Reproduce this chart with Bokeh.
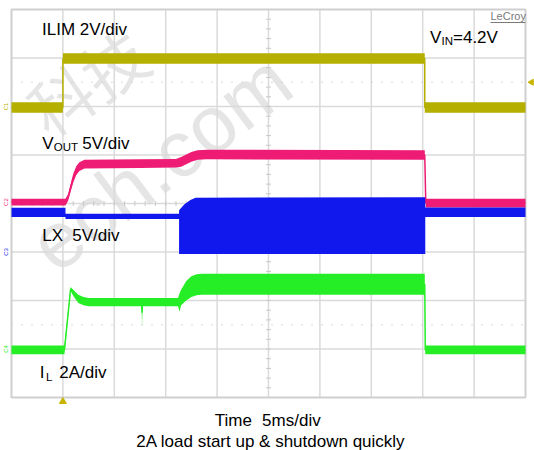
import math
from bokeh.plotting import figure
from bokeh.models import Range1d, Label
from bokeh.core.properties import value
from bokeh.embed import file_html
from bokeh.resources import INLINE

# ---------------- data (time in ms, 5 ms/div; amplitude in screen divisions, 8 div tall)
MS_PER_DIV = 5
N_XDIV = 10
N_YDIV = 8
trigger_ms = 5.0
dotted_levels = [6.5, 1.5]
ilim_trig_level = 6.5

# ILIM (yellow, 2 V/div): envelope of noisy trace
ilim_t = [0, 5.0, 5.0, 40.2, 40.2, 50]
ilim_hi = [6.09, 6.09, 7.10, 7.10, 6.09, 6.09]
ilim_lo = [5.87, 5.87, 6.88, 6.88, 5.87, 5.87]

# VOUT (pink, 5 V/div)
vout_t = [0, 5.25, 5.5, 5.75, 6.0, 6.3, 6.6, 7.1, 12.5, 16.0, 16.5, 17.0, 17.5, 18.1, 19.0, 40.2, 40.3, 50]
vout_hi = [4.10, 4.10, 4.19, 4.40, 4.61, 4.77, 4.85, 4.90, 4.91, 4.92, 4.96, 5.01, 5.06, 5.10, 5.11, 5.10, 4.10, 4.10]
vout_lo = [3.96, 3.96, 4.05, 4.24, 4.43, 4.59, 4.67, 4.72, 4.73, 4.74, 4.76, 4.81, 4.86, 4.90, 4.91, 4.90, 3.92, 3.92]

# LX (blue, 5 V/div): switching node, solid block while switching
lx_t = [0, 5.25, 5.25, 16.3, 16.3, 16.8, 17.4, 17.9, 40.2, 40.25, 40.25, 50]
lx_hi = [3.91, 3.91, 3.79, 3.79, 3.86, 3.98, 4.07, 4.12, 4.13, 4.13, 3.92, 3.92]
lx_lo = [3.72, 3.72, 3.68, 3.68, 2.96, 2.96, 2.96, 2.96, 2.96, 2.96, 3.72, 3.72]

# IL (green, 2 A/div)
il_t = [0, 5.15, 5.75, 6.0, 6.5, 7.0, 7.5, 12.65, 12.7, 12.75, 16.2, 16.35, 16.5, 17.0, 17.5, 18.0, 18.5, 40.2, 40.25, 50]
il_hi = [1.07, 1.07, 2.28, 2.22, 2.12, 2.07, 2.05, 2.05, 2.05, 2.05, 2.05, 2.15, 2.22, 2.40, 2.50, 2.54, 2.55, 2.55, 1.07, 1.07]
il_lo = [0.89, 0.89, 2.20, 2.10, 1.95, 1.90, 1.88, 1.88, 1.45, 1.88, 1.88, 1.77, 1.90, 2.00, 2.07, 2.11, 2.12, 2.12, 0.89, 0.89]

# channel ground markers at left edge (label, level in div)
ch_names = ["C1", "C2", "C3", "C4"]
ch_levels = [6.0, 4.03, 3.0, 1.0]

C_ILIM = "#b5b000"
C_VOUT = "#ee1c74"
C_LX = "#1018ee"
C_IL = "#26ee26"
ch_colors = [C_ILIM, C_VOUT, C_LX, C_IL]

# ---------------- page-pixel helpers (grid spans page x 11..525, y 9..397)
GX0, GDX = 11.0, 51.4
GY0, GDY = 397.0, 48.5


def PX(px):
    return (px - GX0) / GDX * MS_PER_DIV


def PY(py):
    return (GY0 - py) / GDY


W, H = 534, 450
p = figure(width=W, height=H, output_backend="svg", toolbar_location=None,
           x_range=Range1d(PX(0), PX(W)), y_range=Range1d(PY(H), PY(0)),
           x_axis_location=None, y_axis_location=None,
           min_border=0, min_border_left=0, min_border_right=0,
           min_border_top=0, min_border_bottom=0)
p.grid.visible = False
p.outline_line_color = None
p.background_fill_color = "white"
p.border_fill_color = "white"

# ---------------- watermark
p.text(x=[PX(86)], y=[PY(80)], text=["科技"], angle=math.radians(34),
       text_font=value("Noto Sans CJK SC"), text_font_size="64px",
       text_align="center", text_baseline="middle", text_color="#cfcfcf", text_alpha=0.55)
p.text(x=[PX(160)], y=[PY(162)], text=["ech.com"], angle=math.radians(37),
       text_font=value("Liberation Sans"), text_font_size="80px",
       text_align="center", text_baseline="middle", text_color="#cfcfcf", text_alpha=0.55)

# ---------------- graticule
xs_div = list(range(N_XDIV + 1))
ys_div = list(range(N_YDIV + 1))
inner_x = [d * MS_PER_DIV for d in xs_div[1:-1]]
p.segment(x0=inner_x, y0=[0] * len(inner_x), x1=inner_x, y1=[N_YDIV] * len(inner_x),
          line_color="#dadada", line_width=1.5)
inner_y = ys_div[1:-1]
p.segment(x0=[0] * len(inner_y), y0=inner_y, x1=[N_XDIV * MS_PER_DIV] * len(inner_y), y1=inner_y,
          line_color="#dadada", line_width=1.5)
# dotted level lines
p.segment(x0=[0] * len(dotted_levels), y0=dotted_levels,
          x1=[N_XDIV * MS_PER_DIV] * len(dotted_levels), y1=dotted_levels,
          line_color="#cdcdcd", line_width=1.5, line_dash="1 9")
# minor ticks on centre lines
cx = N_XDIV * MS_PER_DIV / 2
cy = N_YDIV / 2
tick_y = [i * 0.2 for i in range(N_YDIV * 5 + 1)]
hx = 2.5 / GDX * MS_PER_DIV
p.segment(x0=[cx - hx] * len(tick_y), y0=tick_y, x1=[cx + hx] * len(tick_y), y1=tick_y,
          line_color="#c8c8c8", line_width=1)
tick_x = [i * 0.2 * MS_PER_DIV for i in range(N_XDIV * 5 + 1)]
hy = 2.5 / GDY
p.segment(x0=tick_x, y0=[cy - hy] * len(tick_x), x1=tick_x, y1=[cy + hy] * len(tick_x),
          line_color="#c8c8c8", line_width=1)
# border
p.rect(x=[N_XDIV * MS_PER_DIV / 2], y=[N_YDIV / 2], width=N_XDIV * MS_PER_DIV, height=N_YDIV,
       fill_color=None, line_color="#cfcfcf", line_width=2)

# ---------------- traces
def trace(t, hi, lo, color, center=True):
    p.varea(x=t, y1=lo, y2=hi, fill_color=color)
    if center:
        mid = [(a + b) / 2 for a, b in zip(hi, lo)]
        p.line(x=t, y=mid, line_color=color, line_width=1.5)


trace(ilim_t, ilim_hi, ilim_lo, C_ILIM)
trace(vout_t, vout_hi, vout_lo, C_VOUT)
trace(lx_t, lx_hi, lx_lo, C_LX, center=False)
trace(il_t, il_hi, il_lo, C_IL)

# trigger markers
p.scatter(x=[trigger_ms], y=[PY(401)], marker="triangle", size=7,
          fill_color="#c8b400", line_color="#c8b400")
p.scatter(x=[PX(531)], y=[ilim_trig_level], marker="triangle", angle=math.pi / 2, size=6,
          fill_color="#c8b400", line_color="#c8b400")

# channel markers
p.text(x=[PX(5.5)] * len(ch_names), y=ch_levels, text=ch_names, text_color=ch_colors,
       angle=math.pi / 2, text_font=value("Liberation Sans"), text_font_size="6px",
       text_align="center", text_baseline="middle")

# ---------------- texts (y = vertical centre of capitals, page px)
FONT = "Liberation Sans"


def lab(px, py, text, size="17px", color="#000000", align="left"):
    p.add_layout(Label(x=PX(px), y=PY(py), text=text, text_font=FONT, text_font_size=size,
                       text_color=color, text_align=align, text_baseline="middle"))


lab(41.5, 29.2, "ILIM 2V/div")
lab(429.5, 36.7, "V")
lab(441, 40.4, "IN", size="11.5px")
lab(452.5, 36.7, "=4.2V")
lab(41.7, 142.5, "V")
lab(53.3, 146.9, "OUT", size="11.5px")
lab(81.7, 142.5, "5V/div")
lab(41.7, 235.4, "LX")
lab(71.7, 235.4, "5V/div")
lab(39.2, 371.8, "I")
lab(45.5, 376.9, "L", size="11.5px")
lab(58.7, 371.8, "2A/div")
lab(490, 15.9, "LeCroy", size="11px", color="#7a7a7a")
p.segment(x0=[PX(490)], y0=[PY(22)], x1=[PX(525)], y1=[PY(22)], line_color="#7a7a7a", line_width=1)
lab(214.3, 419.5, "Time")
lab(261.6, 419.5, "5ms/div")
lab(270.4, 441.2, "2A load start up & shutdown quickly", align="center")

open("out.html", "w").write(file_html(p, INLINE))
